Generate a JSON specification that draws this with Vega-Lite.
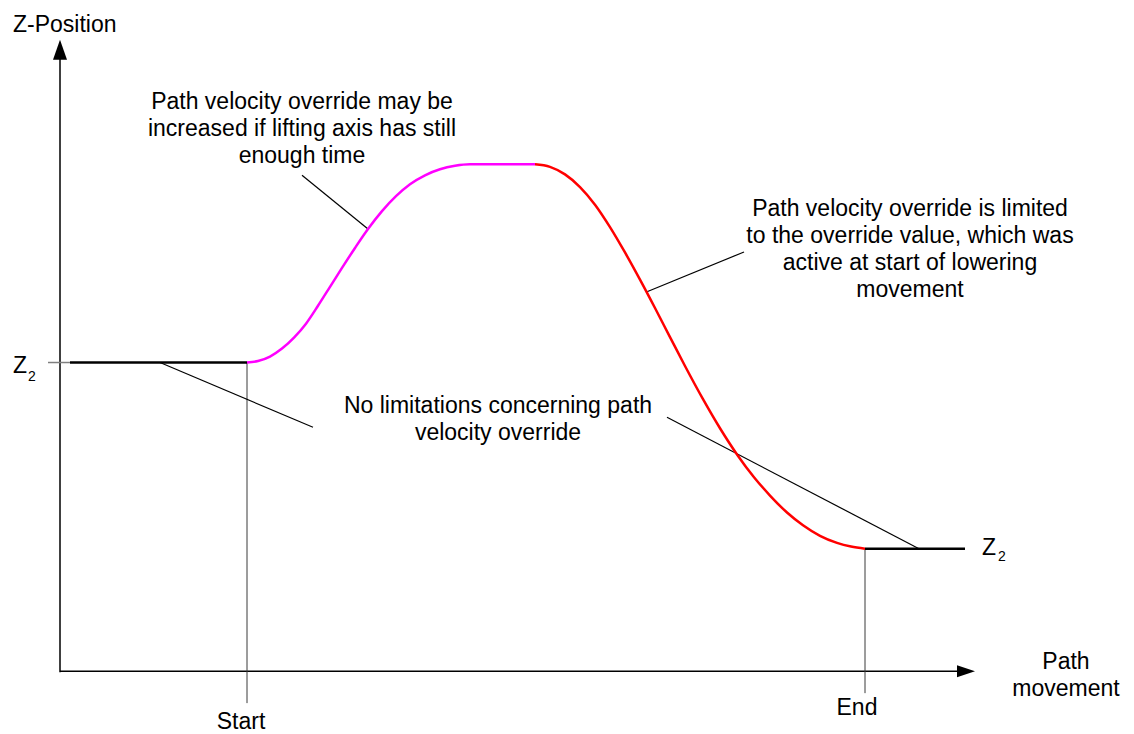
{
  "$schema": "https://vega.github.io/schema/vega-lite/v6.json",
  "width": 1134,
  "height": 734,
  "autosize": {"type": "fit", "contains": "padding"},
  "padding": 0,
  "background": "white",
  "config": {"view": {"stroke": null}},
  "datasets": {
    "curve": [
      {"x": 247, "z": 370, "seg": "lift"},
      {"x": 258, "z": 371.5, "seg": "lift"},
      {"x": 270, "z": 376, "seg": "lift"},
      {"x": 282, "z": 384, "seg": "lift"},
      {"x": 294, "z": 395, "seg": "lift"},
      {"x": 306, "z": 409, "seg": "lift"},
      {"x": 318, "z": 427, "seg": "lift"},
      {"x": 330, "z": 446, "seg": "lift"},
      {"x": 342, "z": 465, "seg": "lift"},
      {"x": 355, "z": 485, "seg": "lift"},
      {"x": 368, "z": 504, "seg": "lift"},
      {"x": 382, "z": 522, "seg": "lift"},
      {"x": 396, "z": 537, "seg": "lift"},
      {"x": 410, "z": 549, "seg": "lift"},
      {"x": 425, "z": 558, "seg": "lift"},
      {"x": 440, "z": 564, "seg": "lift"},
      {"x": 455, "z": 567.5, "seg": "lift"},
      {"x": 470, "z": 569, "seg": "lift"},
      {"x": 535, "z": 569, "seg": "lift"},
      {"x": 535, "z": 569, "seg": "lower"},
      {"x": 550, "z": 566.5, "seg": "lower"},
      {"x": 565, "z": 558.9, "seg": "lower"},
      {"x": 580, "z": 546.2, "seg": "lower"},
      {"x": 595, "z": 528.5, "seg": "lower"},
      {"x": 610, "z": 506, "seg": "lower"},
      {"x": 625, "z": 480.5, "seg": "lower"},
      {"x": 640, "z": 453.2, "seg": "lower"},
      {"x": 655, "z": 424.7, "seg": "lower"},
      {"x": 670, "z": 395.5, "seg": "lower"},
      {"x": 685, "z": 366.5, "seg": "lower"},
      {"x": 703, "z": 333.2, "seg": "lower"},
      {"x": 720, "z": 304, "seg": "lower"},
      {"x": 737, "z": 277.7, "seg": "lower"},
      {"x": 754, "z": 254.8, "seg": "lower"},
      {"x": 770, "z": 236.4, "seg": "lower"},
      {"x": 787, "z": 219.4, "seg": "lower"},
      {"x": 803, "z": 206.6, "seg": "lower"},
      {"x": 820, "z": 196, "seg": "lower"},
      {"x": 837, "z": 188.9, "seg": "lower"},
      {"x": 851, "z": 185.2, "seg": "lower"},
      {"x": 865, "z": 183, "seg": "lower"}
    ],
    "axes": [
      {"x": 60, "z": 59, "x2": 60, "z2": 676},
      {"x": 60, "z": 60, "x2": 960, "z2": 60}
    ],
    "levels": [
      {"x": 70, "z": 370, "x2": 247, "z2": 370},
      {"x": 865, "z": 183, "x2": 965, "z2": 183}
    ],
    "ticks": [
      {"x": 48, "z": 370, "x2": 70, "z2": 370}
    ],
    "guides": [
      {"x": 247, "z": 370, "x2": 247, "z2": 28},
      {"x": 865, "z": 183, "x2": 865, "z2": 38}
    ],
    "leaders": [
      {"x": 302, "z": 558, "x2": 368, "z2": 504},
      {"x": 647, "z": 441, "x2": 744, "z2": 481},
      {"x": 160, "z": 370, "x2": 313, "z2": 305},
      {"x": 667, "z": 315, "x2": 919, "z2": 183}
    ],
    "arrowUp": [{"x": 60, "z": 684}],
    "arrowRight": [{"x": 966, "z": 60}],
    "labelsCenter": [
      {"x": 302, "z": 625, "text": "Path velocity override may be\nincreased if lifting axis has still\nenough time"},
      {"x": 498, "z": 319, "text": "No limitations concerning path\nvelocity override"},
      {"x": 910, "z": 517, "text": "Path velocity override is limited\nto the override value, which was\nactive at start of lowering\nmovement"},
      {"x": 241, "z": 2, "text": "Start"},
      {"x": 857, "z": 16, "text": "End"},
      {"x": 1066, "z": 62, "text": "Path\nmovement"}
    ],
    "labelsLeft": [
      {"x": 13, "z": 702, "text": "Z-Position"},
      {"x": 13, "z": 359, "text": "Z"},
      {"x": 982, "z": 177, "text": "Z"}
    ],
    "subs": [
      {"x": 28, "z": 351, "text": "2"},
      {"x": 998, "z": 171, "text": "2"}
    ]
  },
  "layer": [
    {
      "data": {"name": "axes"},
      "mark": {"type": "rule", "color": "#000000", "strokeWidth": 1.5},
      "encoding": {
        "x": {"field": "x", "type": "quantitative", "scale": {"domain": [0, 1134], "nice": false, "zero": false}, "axis": null},
        "y": {"field": "z", "type": "quantitative", "scale": {"domain": [0, 734], "nice": false, "zero": false}, "axis": null},
        "x2": {"field": "x2"},
        "y2": {"field": "z2"}
      }
    },
    {
      "data": {"name": "ticks"},
      "mark": {"type": "rule", "color": "#7f7f7f", "strokeWidth": 1.5},
      "encoding": {
        "x": {"field": "x", "type": "quantitative", "scale": {"domain": [0, 1134], "nice": false, "zero": false}, "axis": null},
        "y": {"field": "z", "type": "quantitative", "scale": {"domain": [0, 734], "nice": false, "zero": false}, "axis": null},
        "x2": {"field": "x2"},
        "y2": {"field": "z2"}
      }
    },
    {
      "data": {"name": "guides"},
      "mark": {"type": "rule", "color": "#3a3a3a", "strokeWidth": 1},
      "encoding": {
        "x": {"field": "x", "type": "quantitative", "scale": {"domain": [0, 1134], "nice": false, "zero": false}, "axis": null},
        "y": {"field": "z", "type": "quantitative", "scale": {"domain": [0, 734], "nice": false, "zero": false}, "axis": null},
        "x2": {"field": "x2"},
        "y2": {"field": "z2"}
      }
    },
    {
      "data": {"name": "leaders"},
      "mark": {"type": "rule", "color": "#000000", "strokeWidth": 1.2},
      "encoding": {
        "x": {"field": "x", "type": "quantitative", "scale": {"domain": [0, 1134], "nice": false, "zero": false}, "axis": null},
        "y": {"field": "z", "type": "quantitative", "scale": {"domain": [0, 734], "nice": false, "zero": false}, "axis": null},
        "x2": {"field": "x2"},
        "y2": {"field": "z2"}
      }
    },
    {
      "data": {"name": "levels"},
      "mark": {"type": "rule", "color": "#000000", "strokeWidth": 2.5},
      "encoding": {
        "x": {"field": "x", "type": "quantitative", "scale": {"domain": [0, 1134], "nice": false, "zero": false}, "axis": null},
        "y": {"field": "z", "type": "quantitative", "scale": {"domain": [0, 734], "nice": false, "zero": false}, "axis": null},
        "x2": {"field": "x2"},
        "y2": {"field": "z2"}
      }
    },
    {
      "data": {"name": "curve"},
      "mark": {"type": "line", "interpolate": "monotone", "strokeWidth": 2.5},
      "encoding": {
        "x": {"field": "x", "type": "quantitative", "scale": {"domain": [0, 1134], "nice": false, "zero": false}, "axis": null},
        "y": {"field": "z", "type": "quantitative", "scale": {"domain": [0, 734], "nice": false, "zero": false}, "axis": null},
        "color": {"field": "seg", "type": "nominal", "scale": {"domain": ["lift", "lower"], "range": ["#ff00ff", "#ff0000"]}, "legend": null}
      }
    },
    {
      "data": {"name": "arrowUp"},
      "mark": {"type": "point", "shape": "M0,-1L0.7,1L-0.7,1Z", "filled": true, "color": "#000000", "opacity": 1, "size": 400, "strokeWidth": 0},
      "encoding": {
        "x": {"field": "x", "type": "quantitative", "scale": {"domain": [0, 1134], "nice": false, "zero": false}, "axis": null},
        "y": {"field": "z", "type": "quantitative", "scale": {"domain": [0, 734], "nice": false, "zero": false}, "axis": null}
      }
    },
    {
      "data": {"name": "arrowRight"},
      "mark": {"type": "point", "shape": "M1,0L-1,0.67L-1,-0.67Z", "filled": true, "color": "#000000", "opacity": 1, "size": 324, "strokeWidth": 0},
      "encoding": {
        "x": {"field": "x", "type": "quantitative", "scale": {"domain": [0, 1134], "nice": false, "zero": false}, "axis": null},
        "y": {"field": "z", "type": "quantitative", "scale": {"domain": [0, 734], "nice": false, "zero": false}, "axis": null}
      }
    },
    {
      "data": {"name": "labelsCenter"},
      "mark": {"type": "text", "align": "center", "baseline": "alphabetic", "font": "Liberation Sans", "fontSize": 23, "lineHeight": 27, "lineBreak": "\n", "color": "#000000"},
      "encoding": {
        "x": {"field": "x", "type": "quantitative", "scale": {"domain": [0, 1134], "nice": false, "zero": false}, "axis": null},
        "y": {"field": "z", "type": "quantitative", "scale": {"domain": [0, 734], "nice": false, "zero": false}, "axis": null},
        "text": {"field": "text"}
      }
    },
    {
      "data": {"name": "labelsLeft"},
      "mark": {"type": "text", "align": "left", "baseline": "alphabetic", "font": "Liberation Sans", "fontSize": 23, "color": "#000000"},
      "encoding": {
        "x": {"field": "x", "type": "quantitative", "scale": {"domain": [0, 1134], "nice": false, "zero": false}, "axis": null},
        "y": {"field": "z", "type": "quantitative", "scale": {"domain": [0, 734], "nice": false, "zero": false}, "axis": null},
        "text": {"field": "text"}
      }
    },
    {
      "data": {"name": "subs"},
      "mark": {"type": "text", "align": "left", "baseline": "alphabetic", "font": "Liberation Sans", "fontSize": 14, "color": "#000000"},
      "encoding": {
        "x": {"field": "x", "type": "quantitative", "scale": {"domain": [0, 1134], "nice": false, "zero": false}, "axis": null},
        "y": {"field": "z", "type": "quantitative", "scale": {"domain": [0, 734], "nice": false, "zero": false}, "axis": null},
        "text": {"field": "text"}
      }
    }
  ]
}
